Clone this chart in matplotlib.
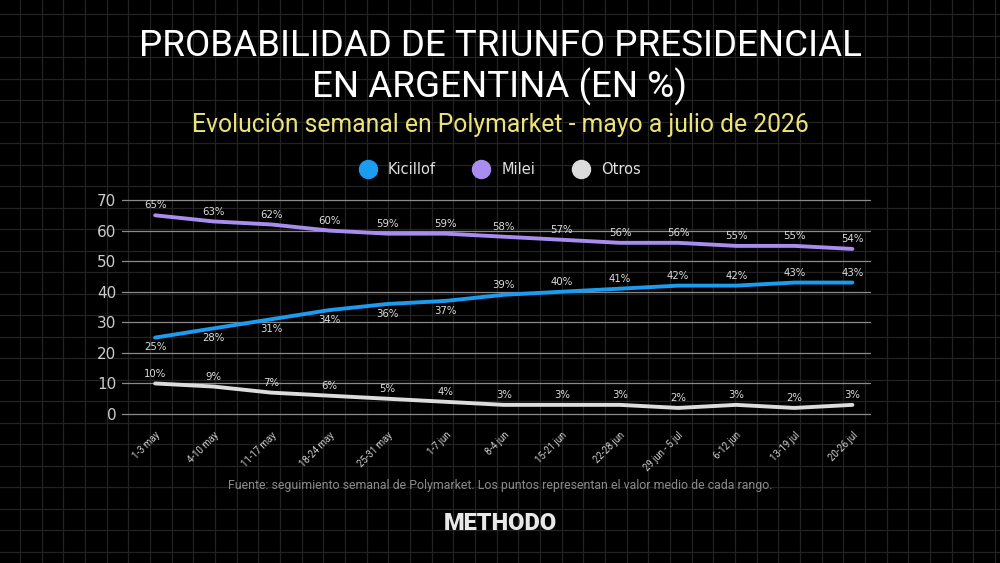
import numpy as np
import matplotlib
matplotlib.use("Agg")
import matplotlib.pyplot as plt
from matplotlib.lines import Line2D

weeks = ["1-3 may", "4-10 may", "11-17 may", "18-24 may", "25-31 may", "1-7 jun",
         "8-4 jun", "15-21 jun", "22-28 jun", "29 jun - 5 jul", "6-12 jun",
         "13-19 jul", "20-26 jul"]
kicillof = [25, 28, 31, 34, 36, 37, 39, 40, 41, 42, 42, 43, 43]
milei = [65, 63, 62, 60, 59, 59, 58, 57, 56, 56, 55, 55, 54]
otros = [10, 9, 7, 6, 5, 4, 3, 3, 3, 2, 3, 2, 3]
yticks = [0, 10, 20, 30, 40, 50, 60, 70]

C_K = "#1b9cf0"
C_M = "#a98cf0"
C_O = "#dcdcdc"
TXT = "#dddddd"

plt.rcParams['font.family'] = ['DejaVu Sans']

fig = plt.figure(figsize=(10, 5.63), dpi=100, facecolor="black")

# decorative background grid
bg = fig.add_axes([0, 0, 1, 1], zorder=0)
bg.set_xlim(0, 1000)
bg.set_ylim(563, 0)
bg.set_facecolor("black")
for xv in np.arange(20, 1000, 21.67):
    bg.axvline(xv, color="#222222", lw=0.9)
for yv in np.arange(14, 563, 21.5):
    bg.axhline(yv, color="#222222", lw=0.9)
bg.axis("off")

ax = fig.add_axes([0.122, 0.2483, 0.749, 0.4073], zorder=1)
ax.patch.set_alpha(0)
x = np.arange(len(weeks))
ax.set_xlim(-0.57, 12.32)
ax.set_ylim(-3, 72)

ax.set_yticks(yticks)
ax.grid(axis="y", color="#8a8a8a", lw=0.9)
ax.grid(axis="x", visible=False)
for s in ax.spines.values():
    s.set_visible(False)
ax.tick_params(axis="y", length=0, colors="#cccccc", labelsize=11, pad=4)
ax.set_xticks(x)
ax.set_xticklabels(weeks, rotation=45, ha="right", rotation_mode="anchor",
                   fontsize=6.9, color="#cccccc", family="Roboto")
ax.tick_params(axis="x", length=0, pad=5)

ax.plot(x, milei, color=C_M, lw=2.8, solid_capstyle="round", solid_joinstyle="round")
ax.plot(x, kicillof, color=C_K, lw=2.8, solid_capstyle="round", solid_joinstyle="round")
ax.plot(x, otros, color=C_O, lw=2.8, solid_capstyle="round", solid_joinstyle="round")

for i in x:
    ax.annotate(f"{milei[i]}%", (i, milei[i]), xytext=(0, 3.5), textcoords="offset points",
                ha="center", va="bottom", fontsize=7.3, color=TXT)
    ax.annotate(f"{otros[i]}%", (i, otros[i]), xytext=(0, 3.5), textcoords="offset points",
                ha="center", va="bottom", fontsize=7.3, color=TXT)
    if kicillof[i] < 38:
        ax.annotate(f"{kicillof[i]}%", (i, kicillof[i]), xytext=(0, -3.5), textcoords="offset points",
                    ha="center", va="top", fontsize=7.3, color=TXT)
    else:
        ax.annotate(f"{kicillof[i]}%", (i, kicillof[i]), xytext=(0, 3.5), textcoords="offset points",
                    ha="center", va="bottom", fontsize=7.3, color=TXT)

# titles
fig.text(0.5, 1 - 46 / 563, "PROBABILIDAD DE TRIUNFO PRESIDENCIAL", ha="center", va="center",
         fontsize=26.5, color="white", family="Roboto")
fig.text(0.5, 1 - 87 / 563, "EN ARGENTINA (EN %)", ha="center", va="center",
         fontsize=26.5, color="white", family="Roboto")
fig.text(0.5, 1 - 125 / 563, "Evolución semanal en Polymarket - mayo a julio de 2026",
         ha="center", va="center", fontsize=17.8, color="#ebe37a", family="Roboto")

# legend
handles = [Line2D([0], [0], marker="o", ls="", markersize=13, markerfacecolor=c, markeredgecolor=c)
           for c in (C_K, C_M, C_O)]
leg = fig.legend(handles, ["Kicillof", "Milei", "Otros"], loc="center",
                 bbox_to_anchor=(0.497, 1 - 170 / 563), ncol=3, frameon=False,
                 fontsize=10.5, labelcolor="#e0e0e0", columnspacing=2.1, handletextpad=0.4)

fig.text(0.5, 1 - 485 / 563,
         "Fuente: seguimiento semanal de Polymarket. Los puntos representan el valor medio de cada rango.",
         ha="center", va="center", fontsize=8.9, color="#8a8a8a", family="Roboto")
fig.text(0.5, 1 - 523 / 563, "METHODO", ha="center", va="center", fontsize=17,
         color="#e8e8e8", fontweight="heavy", family="Roboto")

fig.savefig("out.png", dpi=100, facecolor="black")
